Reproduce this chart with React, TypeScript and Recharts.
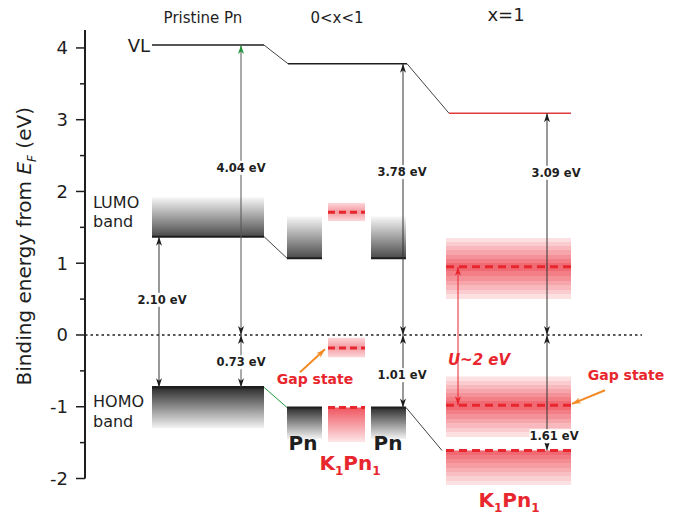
import React from 'react';
import { ComposedChart, XAxis, YAxis, ReferenceLine, ReferenceArea, ReferenceDot } from 'recharts';

const FONT = '"DejaVu Sans", Verdana, sans-serif';
const INK = '#1e1e1e';
const RED = '#e8262e';
const ORANGE = '#f28a26';
const GREEN = '#23963c';

// column headers
const phaseNames = ['Pristine Pn', '0<x<1', 'x=1'];

// energies from E_F (eV) for pristine Pn, 0<x<1, x=1
const vacuumLevel = [4.04, 3.78, 3.09];
const pnHomo = [-0.73, -1.01];
const pnLumo = [1.37, 1.07];

// K1Pn1 in the mixed phase: LUMO, gap state, HOMO
const k1MixedLevels = [1.71, -0.18, -1.01];
// K1Pn1 at x=1: upper band, gap state, HOMO
const k1FullLevels = [0.95, -0.98, -1.61];

// band extents (eV), [top, bottom]
const pnLumoBands = [[1.92, 1.37], [1.65, 1.07]];
const pnHomoBands = [[-0.73, -1.3], [-1.01, -1.45]];
const k1MixedBands = [[1.84, 1.59], [-0.04, -0.31], [-1.01, -1.49]];
const k1FullBands = [[1.35, 0.5], [-0.58, -1.42], [-1.61, -2.09]];

const hubbardLabel = 'U~2 eV';
const gapLabel = 'Gap state';
const yTicks = [-2, -1.5, -1, -0.5, 0, 0.5, 1, 1.5, 2, 2.5, 3, 3.5, 4];

const ev = (v: number) => `${Math.abs(v).toFixed(2)} eV`;

// horizontal layout, in units along the hidden x axis
const L = {
  pristine: [67, 179],
  pnA: [202, 237],
  k1Mid: [243, 280],
  pnB: [286, 321],
  full: [361, 486],
  vlMid: [203, 322],
  vlFull: [364, 486],
  arrGap: 74,
  arrVL0: 156,
  arrVL1: 318,
  arrU: 373,
  arrVL2: 462,
  fermiEnd: 557,
};

const Head = ({ tx, ty, fx, fy, color, len = 9, half = 3 }: any) => {
  const d = Math.hypot(tx - fx, ty - fy) || 1;
  const ux = (tx - fx) / d;
  const uy = (ty - fy) / d;
  const nx = -uy;
  const ny = ux;
  const pts = [
    [tx, ty],
    [tx - ux * len + nx * half, ty - uy * len + ny * half],
    [tx - ux * (len - 2.5), ty - uy * (len - 2.5)],
    [tx - ux * len - nx * half, ty - uy * len - ny * half],
  ];
  return <polygon points={pts.map((p) => p.join(',')).join(' ')} fill={color} />;
};

const arrow = (color: string, heads: { start?: string; end?: string }, width = 1) => (p: any) => {
  const { x1, y1, x2, y2 } = p;
  return (
    <g>
      <line x1={x1} y1={y1} x2={x2} y2={y2} stroke={color} strokeWidth={width} />
      {heads.start && <Head tx={x1} ty={y1} fx={x2} fy={y2} color={heads.start} />}
      {heads.end && <Head tx={x2} ty={y2} fx={x1} fy={y1} color={heads.end} />}
    </g>
  );
};

const valueLabel = (text: string) => (p: any) => {
  const w = text.length * 7;
  return (
    <g>
      <rect x={p.cx - w / 2} y={p.cy - 7} width={w} height={14} fill="#fff" />
      <text x={p.cx} y={p.cy} dy="0.36em" textAnchor="middle" fontFamily={FONT} fontSize={11.5} fontWeight="bold" fill={INK}>
        {text}
      </text>
    </g>
  );
};

const plainText = (text: React.ReactNode, opts: any = {}) => (p: any) => (
  <text
    x={p.cx}
    y={p.cy}
    textAnchor={opts.anchor || 'middle'}
    fontFamily={FONT}
    fontSize={opts.size || 15}
    fontWeight={opts.weight || 'normal'}
    fontStyle={opts.style || 'normal'}
    fill={opts.color || INK}
  >
    {text}
  </text>
);

const k1Name = (
  <>
    K<tspan fontSize={12} dy={5}>1</tspan>
    <tspan dy={-5}>Pn</tspan>
    <tspan fontSize={12} dy={5}>1</tspan>
  </>
);

const AxisTick = (props: any) => {
  const { x, y, payload } = props;
  const major = Number.isInteger(payload.value);
  const axisX = x + 17;
  return (
    <g>
      <line x1={axisX - (major ? 9 : 5)} x2={axisX} y1={y} y2={y} stroke={INK} strokeWidth={1.5} />
      {major && (
        <text x={x} y={y} dy="0.36em" textAnchor="end" fontFamily={FONT} fontSize={18} fill={INK}>
          {payload.value}
        </text>
      )}
    </g>
  );
};

const AxisTitle = (props: any) => {
  const { x, y, height } = props.viewBox;
  const cx = x + 31;
  const cy = y + height / 2 - 8;
  return (
    <text x={cx} y={cy} transform={`rotate(-90 ${cx} ${cy})`} textAnchor="middle" fontFamily={FONT} fontSize={20} fill={INK}>
      Binding energy from <tspan fontStyle="italic">E</tspan>
      <tspan fontStyle="italic" fontSize={12} dy={5}>F</tspan>
      <tspan dy={-5}> (eV)</tspan>
    </text>
  );
};

// horizontal stepped fade for the x=1 bands
const steppedStops = (peak: number, dark: string, steps: number) => {
  const stops: React.ReactElement[] = [];
  const edges: number[] = [];
  for (let i = 0; i <= steps; i++) edges.push((peak * i) / steps);
  for (let i = 1; i <= steps; i++) edges.push(peak + ((1 - peak) * i) / steps);
  for (let i = 0; i < edges.length - 1; i++) {
    const mid = (edges[i] + edges[i + 1]) / 2;
    const dist = mid <= peak ? (peak - mid) / (peak || 1) : (mid - peak) / (1 - peak || 1);
    const op = 0.9 - 0.78 * dist;
    stops.push(<stop key={`a${i}`} offset={edges[i]} stopColor={dark} stopOpacity={op} />);
    stops.push(<stop key={`b${i}`} offset={edges[i + 1]} stopColor={dark} stopOpacity={op} />);
  }
  return stops;
};

const seg = (x1: number, y1: number, x2: number, y2: number) => [
  { x: x1, y: y1 },
  { x: x2, y: y2 },
];

export default function App() {
  const [pA, pB] = L.pristine;
  const fullPeak = (k1FullBands[0][0] - k1FullLevels[0]) / (k1FullBands[0][0] - k1FullBands[0][1]);
  const gapPeak = (k1FullBands[1][0] - k1FullLevels[1]) / (k1FullBands[1][0] - k1FullBands[1][1]);

  return (
    <div style={{ width: 680, height: 515, background: '#fff' }}>
      <style>{'body{margin:0}'}</style>
      <ComposedChart width={680} height={515} margin={{ top: 30, right: 35, bottom: 36.5, left: 0 }}>
        <defs>
          <linearGradient id="lumoGray" x1="0" y1="0" x2="0" y2="1">
            <stop offset="0" stopColor="#f7f7f7" />
            <stop offset="1" stopColor="#4a4a4a" />
          </linearGradient>
          <linearGradient id="homoGray" x1="0" y1="0" x2="0" y2="1">
            <stop offset="0" stopColor="#2c2c2c" />
            <stop offset="1" stopColor="#f4f4f4" />
          </linearGradient>
          <linearGradient id="pinkSoft" x1="0" y1="0" x2="0" y2="1">
            <stop offset="0" stopColor="#fcd6d9" />
            <stop offset="0.5" stopColor="#f49aa0" />
            <stop offset="1" stopColor="#fcd6d9" />
          </linearGradient>
          <linearGradient id="pinkFade" x1="0" y1="0" x2="0" y2="1">
            <stop offset="0" stopColor="#f05560" />
            <stop offset="1" stopColor="#fde6e8" />
          </linearGradient>
          <linearGradient id="pinkUpper" x1="0" y1="0" x2="0" y2="1">
            {steppedStops(fullPeak, '#ee4f5a', 7)}
          </linearGradient>
          <linearGradient id="pinkGap" x1="0" y1="0" x2="0" y2="1">
            {steppedStops(gapPeak, '#ee4f5a', 7)}
          </linearGradient>
          <linearGradient id="pinkLower" x1="0" y1="0" x2="0" y2="1">
            {steppedStops(0, '#ee4f5a', 8)}
          </linearGradient>
        </defs>

        <XAxis type="number" dataKey="x" domain={[0, 560]} hide allowDataOverflow />
        <YAxis
          type="number"
          domain={[-2, 4.25]}
          ticks={yTicks}
          interval={0}
          allowDataOverflow
          width={85}
          tickSize={9}
          tickMargin={8}
          tickLine={false}
          axisLine={{ stroke: INK, strokeWidth: 2 }}
          tick={AxisTick}
          label={{ content: AxisTitle }}
        />

        {/* gray Pn bands */}
        <ReferenceArea x1={pA} x2={pB} y1={pnLumoBands[0][0]} y2={pnLumoBands[0][1]} fill="url(#lumoGray)" fillOpacity={1} />
        <ReferenceArea x1={pA} x2={pB} y1={pnHomoBands[0][0]} y2={pnHomoBands[0][1]} fill="url(#homoGray)" fillOpacity={1} />
        {[L.pnA, L.pnB].map(([a, b], i) => (
          <React.Fragment key={`pn${i}`}>
            <ReferenceArea x1={a} x2={b} y1={pnLumoBands[1][0]} y2={pnLumoBands[1][1]} fill="url(#lumoGray)" fillOpacity={1} />
            <ReferenceArea x1={a} x2={b} y1={pnHomoBands[1][0]} y2={pnHomoBands[1][1]} fill="url(#homoGray)" fillOpacity={1} />
          </React.Fragment>
        ))}

        {/* K1Pn1 bands in the mixed phase */}
        <ReferenceArea x1={L.k1Mid[0]} x2={L.k1Mid[1]} y1={k1MixedBands[0][0]} y2={k1MixedBands[0][1]} fill="url(#pinkSoft)" fillOpacity={1} />
        <ReferenceArea x1={L.k1Mid[0]} x2={L.k1Mid[1]} y1={k1MixedBands[1][0]} y2={k1MixedBands[1][1]} fill="url(#pinkSoft)" fillOpacity={1} />
        <ReferenceArea x1={L.k1Mid[0]} x2={L.k1Mid[1]} y1={k1MixedBands[2][0]} y2={k1MixedBands[2][1]} fill="url(#pinkFade)" fillOpacity={1} />

        {/* K1Pn1 bands at x=1 */}
        <ReferenceArea x1={L.full[0]} x2={L.full[1]} y1={k1FullBands[0][0]} y2={k1FullBands[0][1]} fill="url(#pinkUpper)" fillOpacity={1} />
        <ReferenceArea x1={L.full[0]} x2={L.full[1]} y1={k1FullBands[1][0]} y2={k1FullBands[1][1]} fill="url(#pinkGap)" fillOpacity={1} />
        <ReferenceArea x1={L.full[0]} x2={L.full[1]} y1={k1FullBands[2][0]} y2={k1FullBands[2][1]} fill="url(#pinkLower)" fillOpacity={1} ifOverflow="visible" />

        {/* Fermi level */}
        <ReferenceLine segment={seg(0, 0, L.fermiEnd, 0)} stroke={INK} strokeWidth={1.5} strokeDasharray="2.5 3" />

        {/* vacuum level */}
        <ReferenceLine segment={seg(pA, vacuumLevel[0], pB, vacuumLevel[0])} stroke={INK} strokeWidth={1.5} />
        <ReferenceLine segment={seg(pB, vacuumLevel[0], L.vlMid[0], vacuumLevel[1])} stroke="#444" strokeWidth={1} />
        <ReferenceLine segment={seg(L.vlMid[0], vacuumLevel[1], L.vlMid[1], vacuumLevel[1])} stroke={INK} strokeWidth={1.5} />
        <ReferenceLine segment={seg(L.vlMid[1], vacuumLevel[1], L.vlFull[0], vacuumLevel[2])} stroke="#444" strokeWidth={1} />
        <ReferenceLine segment={seg(L.vlFull[0], vacuumLevel[2], L.vlFull[1], vacuumLevel[2])} stroke="#e03a3a" strokeWidth={1.5} />

        {/* band edges and connectors */}
        <ReferenceLine segment={seg(pA, pnLumo[0], pB, pnLumo[0])} stroke={INK} strokeWidth={2} />
        <ReferenceLine segment={seg(pA, pnHomo[0], pB, pnHomo[0])} stroke={INK} strokeWidth={2.5} />
        <ReferenceLine segment={seg(pB, pnLumo[0], L.pnA[0], pnLumo[1])} stroke="#444" strokeWidth={1} />
        <ReferenceLine segment={seg(pB, pnHomo[0], L.pnA[0], pnHomo[1])} stroke={GREEN} strokeWidth={1} />
        {[L.pnA, L.pnB].map(([a, b], i) => (
          <React.Fragment key={`edge${i}`}>
            <ReferenceLine segment={seg(a, pnLumo[1], b, pnLumo[1])} stroke={INK} strokeWidth={2} />
            <ReferenceLine segment={seg(a, pnHomo[1], b, pnHomo[1])} stroke={INK} strokeWidth={2} />
          </React.Fragment>
        ))}
        <ReferenceLine segment={seg(L.pnB[1], pnHomo[1], L.full[0] - 4, k1FullLevels[2])} stroke="#444" strokeWidth={1} />

        {/* K1Pn1 levels */}
        {k1MixedLevels.map((v, i) => (
          <ReferenceLine key={`km${i}`} segment={seg(L.k1Mid[0], v, L.k1Mid[1], v)} stroke={RED} strokeWidth={3} strokeDasharray="7 4" />
        ))}
        {k1FullLevels.map((v, i) => (
          <ReferenceLine key={`kf${i}`} segment={seg(L.full[0], v, L.full[1], v)} stroke={RED} strokeWidth={3} strokeDasharray="8 5" />
        ))}

        {/* energy arrows */}
        <ReferenceLine segment={seg(L.arrGap, pnLumo[0], L.arrGap, pnHomo[0])} shape={arrow('#333', { start: INK, end: INK })} />
        <ReferenceLine segment={seg(L.arrVL0, 0, L.arrVL0, vacuumLevel[0])} shape={arrow('#555', { start: INK, end: GREEN })} />
        <ReferenceLine segment={seg(L.arrVL0, 0, L.arrVL0, pnHomo[0])} shape={arrow('#555', { start: INK, end: INK })} />
        <ReferenceLine segment={seg(L.arrVL1, 0, L.arrVL1, vacuumLevel[1])} shape={arrow('#333', { start: INK, end: INK })} />
        <ReferenceLine segment={seg(L.arrVL1, 0, L.arrVL1, pnHomo[1])} shape={arrow('#333', { start: INK, end: INK })} />
        <ReferenceLine segment={seg(L.arrVL2, 0, L.arrVL2, vacuumLevel[2])} shape={arrow('#333', { start: INK, end: INK })} />
        <ReferenceLine segment={seg(L.arrVL2, 0, L.arrVL2, k1FullLevels[2])} shape={arrow('#333', { start: INK, end: INK })} />
        <ReferenceLine segment={seg(L.arrU, k1FullLevels[0], L.arrU, k1FullLevels[1])} shape={arrow(RED, { start: RED, end: RED })} />

        {/* pointers to the gap states */}
        <ReferenceLine segment={seg(215, -0.52, 240, -0.2)} shape={arrow(ORANGE, { end: ORANGE }, 2)} />
        <ReferenceLine segment={seg(520, -0.77, 487, -0.96)} shape={arrow(ORANGE, { end: ORANGE }, 2)} />

        {/* value labels */}
        <ReferenceDot x={L.arrVL0} y={2.33} r={0} shape={valueLabel(ev(vacuumLevel[0]))} ifOverflow="visible" />
        <ReferenceDot x={L.arrGap + 3} y={0.49} r={0} shape={valueLabel(ev(pnLumo[0] - pnHomo[0]))} ifOverflow="visible" />
        <ReferenceDot x={L.arrVL0} y={-0.38} r={0} shape={valueLabel(ev(pnHomo[0]))} ifOverflow="visible" />
        <ReferenceDot x={L.arrVL1 - 1} y={2.27} r={0} shape={valueLabel(ev(vacuumLevel[1]))} ifOverflow="visible" />
        <ReferenceDot x={L.arrVL1 - 1} y={-0.56} r={0} shape={valueLabel(ev(pnHomo[1]))} ifOverflow="visible" />
        <ReferenceDot x={L.arrVL2 + 9} y={2.26} r={0} shape={valueLabel(ev(vacuumLevel[2]))} ifOverflow="visible" />
        <ReferenceDot x={L.arrVL2 + 7} y={-1.41} r={0} shape={valueLabel(ev(k1FullLevels[2]))} ifOverflow="visible" />

        {/* text */}
        <ReferenceDot x={394} y={-0.42} r={0} shape={plainText(hubbardLabel, { color: RED, weight: 'bold', style: 'italic', size: 15 })} ifOverflow="visible" />
        <ReferenceDot x={230} y={-0.68} r={0} shape={plainText(gapLabel, { color: RED, weight: 'bold', size: 14 })} ifOverflow="visible" />
        <ReferenceDot x={541} y={-0.63} r={0} shape={plainText(gapLabel, { color: RED, weight: 'bold', size: 14 })} ifOverflow="visible" />
        <ReferenceDot x={218} y={-1.6} r={0} shape={plainText('Pn', { weight: 'bold', size: 20 })} ifOverflow="visible" />
        <ReferenceDot x={303} y={-1.6} r={0} shape={plainText('Pn', { weight: 'bold', size: 20 })} ifOverflow="visible" />
        <ReferenceDot x={265} y={-1.88} r={0} shape={plainText(k1Name, { color: RED, weight: 'bold', size: 20 })} ifOverflow="visible" />
        <ReferenceDot x={424} y={-2.4} r={0} shape={plainText(k1Name, { color: RED, weight: 'bold', size: 20 })} ifOverflow="visible" />

        <ReferenceDot x={118} y={4.35} r={0} shape={plainText(phaseNames[0], { size: 15 })} ifOverflow="visible" />
        <ReferenceDot x={252} y={4.35} r={0} shape={plainText(phaseNames[1], { size: 15 })} ifOverflow="visible" />
        <ReferenceDot x={421} y={4.37} r={0} shape={plainText(phaseNames[2], { size: 18 })} ifOverflow="visible" />

        <ReferenceDot x={65} y={3.94} r={0} shape={plainText('VL', { anchor: 'end', size: 18 })} ifOverflow="visible" />
        <ReferenceDot x={8} y={1.77} r={0} shape={plainText('LUMO', { anchor: 'start', size: 16 })} ifOverflow="visible" />
        <ReferenceDot x={8} y={1.5} r={0} shape={plainText('band', { anchor: 'start', size: 16 })} ifOverflow="visible" />
        <ReferenceDot x={8} y={-1.0} r={0} shape={plainText('HOMO', { anchor: 'start', size: 16 })} ifOverflow="visible" />
        <ReferenceDot x={8} y={-1.28} r={0} shape={plainText('band', { anchor: 'start', size: 16 })} ifOverflow="visible" />
      </ComposedChart>
    </div>
  );
}
